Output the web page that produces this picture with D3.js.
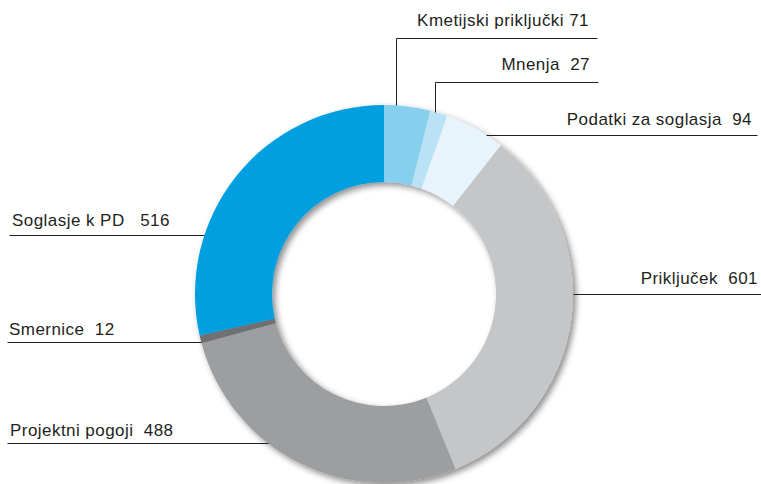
<!DOCTYPE html>
<html>
<head>
<meta charset="utf-8">
<script src="https://cdn.jsdelivr.net/npm/d3@7/dist/d3.min.js"></script>
<style>
  html, body { margin: 0; padding: 0; background: #fff; }
  svg { display: block; }
  text { font-family: "Liberation Sans", Arial, sans-serif; font-size: 17px; letter-spacing: 0.45px; fill: #231f20; white-space: pre; }
</style>
</head>
<body>
<svg id="chart" width="761" height="484"></svg>
<script>
// podatki (clockwise from 12 o'clock)
var categories = ["Kmetijski priključki", "Mnenja", "Podatki za soglasja", "Priključek", "Projektni pogoji", "Smernice", "Soglasje k PD"];
var values = [71, 27, 94, 601, 488, 12, 516];
var labelGaps = [" ", "  ", "  ", "  ", "  ", "  ", "   "];
var colors = ["#86cfef", "#b9e2f6", "#e8f4fb", "#c5c6c8", "#9d9ea0", "#6e6f71", "#009fe0"];

// label layout: where on the slice the leader starts, which side, where line and text sit
var labelLayout = [
  {frac: 0.25, side: "right", lineY: 38, lineEnd: 597, textX: 589, dy: 12},
  {frac: 0.30, side: "right", lineY: 82, lineEnd: 598, textX: 590, dy: 12},
  {frac: 0.70, side: "right", lineY: null, lineEnd: 757, textX: 752, dy: 10},
  {frac: 0.433, side: "right", lineY: null, lineEnd: 761, textX: 758, dy: 10},
  {frac: 0.62, side: "left", lineY: null, lineEnd: 7, textX: 10, dy: 7},
  {frac: 0.2, side: "left", lineY: null, lineEnd: 7, textX: 9, dy: 7},
  {frac: 0.30, side: "left", lineY: null, lineEnd: 9, textX: 12, dy: 9}
];

var width = 761, height = 484;
var cx = 384, cy = 294;
var outerR = 189, innerR = 112;

var svg = d3.select("#chart");

// senca
var defs = svg.append("defs");
var f = defs.append("filter").attr("id", "shadow")
    .attr("x", "-20%").attr("y", "-20%").attr("width", "140%").attr("height", "140%");
f.append("feDropShadow")
    .attr("dx", 3).attr("dy", 3).attr("stdDeviation", 3)
    .attr("flood-color", "#000").attr("flood-opacity", 0.45);

var pie = d3.pie().sort(null).value(function (d) { return d; });
var arcs = pie(values);
var arc = d3.arc().innerRadius(innerR).outerRadius(outerR);

var g = svg.append("g").attr("transform", "translate(" + cx + "," + cy + ")");
g.append("g").attr("filter", "url(#shadow)")
  .selectAll("path").data(arcs).enter().append("path")
    .attr("d", arc)
    .attr("fill", function (d, i) { return colors[i]; });

// točka na zunanjem robu
function edgePoint(d, frac) {
  var a = d.startAngle + frac * (d.endAngle - d.startAngle);
  return [cx + outerR * Math.sin(a), cy - outerR * Math.cos(a)];
}

var labels = svg.append("g");
arcs.forEach(function (d, i) {
  var L = labelLayout[i];
  var p = edgePoint(d, L.frac);
  var y = L.lineY == null ? p[1] : L.lineY;
  var pts = [p];
  if (L.lineY != null) pts.push([p[0], y]);
  pts.push([L.lineEnd, y]);
  labels.append("path")
    .attr("d", d3.line()(pts.map(function (q) { return [Math.round(q[0]) + 0.5, Math.round(q[1]) + 0.5]; })))
    .attr("fill", "none")
    .attr("stroke", "#231f20")
    .attr("stroke-width", 1);
  labels.append("text")
    .attr("xml:space", "preserve")
    .attr("x", L.textX)
    .attr("y", Math.round(y) - L.dy)
    .attr("text-anchor", L.side == "right" ? "end" : "start")
    .text(categories[i] + labelGaps[i] + values[i]);
});
</script>
</body>
</html>
